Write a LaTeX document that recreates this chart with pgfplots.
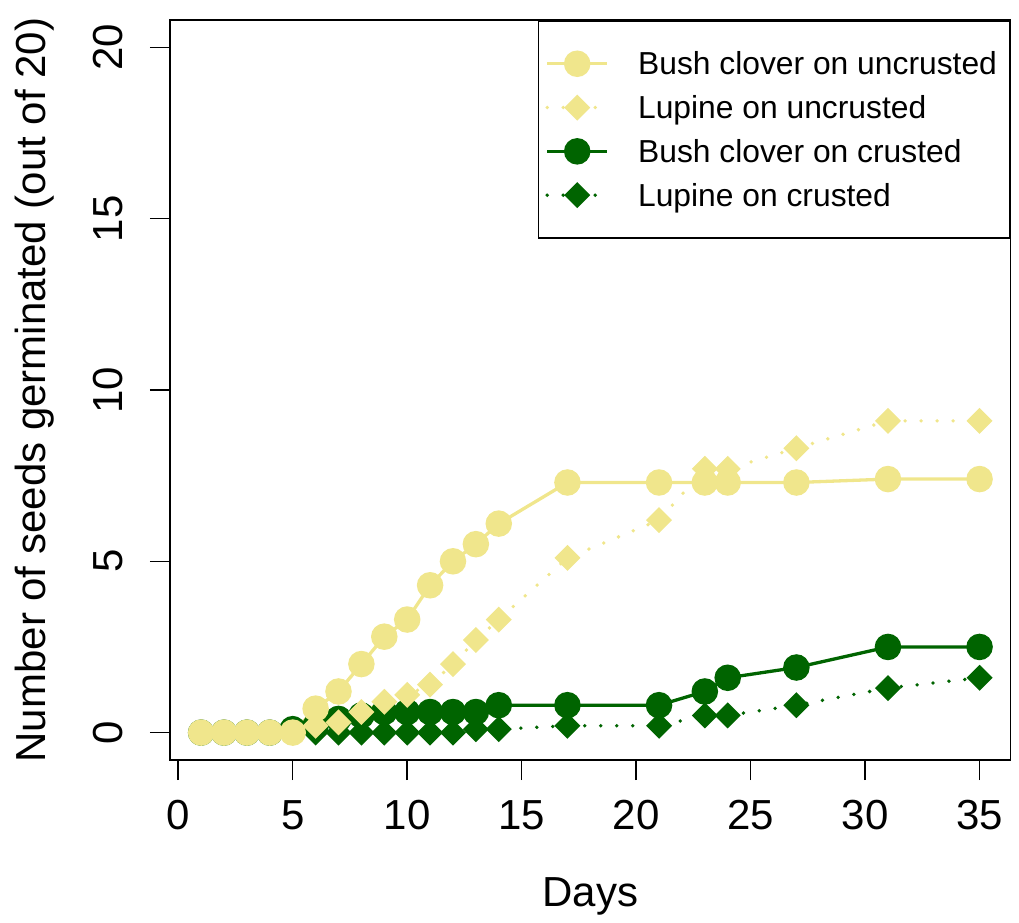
\documentclass[border=0pt]{standalone}
\usepackage{fontspec}
\setmainfont{Liberation Sans}
\usepackage{pgfplots}
\usepackage{pgfplotstable}
\pgfplotsset{compat=1.18}
\definecolor{khaki}{HTML}{F0E68C}
\definecolor{dkgreen}{HTML}{006400}

\pgfplotstableread{
day BCu  Lu   BCc  Lc
1   0    0    0    0
2   0    0    0    0
3   0    0    0    0
4   0    0    0    0
5   0    0    0.1  0
6   0.7  0.2  0.2  0
7   1.2  0.3  0.4  0
8   2.0  0.6  0.5  0
9   2.8  0.9  0.6  0
10  3.3  1.1  0.6  0
11  4.3  1.4  0.6  0
12  5.0  2.0  0.6  0
13  5.5  2.7  0.6  0.1
14  6.1  3.3  0.8  0.1
17  7.3  5.1  0.8  0.2
21  7.3  6.2  0.8  0.2
23  7.3  7.7  1.2  0.5
24  7.3  7.7  1.6  0.5
27  7.3  8.3  1.9  0.8
31  7.4  9.1  2.5  1.3
35  7.4  9.1  2.5  1.6
}\seeds

\begin{document}
\begin{tikzpicture}
\begin{axis}[
  scale only axis, width=420.35pt, height=370pt,
  xmin=-0.36, xmax=36.36, ymin=-0.8, ymax=20.8,
  axis line style={line width=0.75pt},
  xtick={0,5,...,35}, ytick={0,5,...,20},
  xtick pos=left, ytick pos=left,
  tick align=outside, major tick length=10pt,
  every tick/.style={line width=0.75pt, black},
  /pgf/number format/assume math mode=true,
  ticklabel style={font=\fontsize{21}{25}\selectfont},
  xticklabel style={anchor=north, inner sep=0pt},
  yticklabel style={rotate=90, anchor=south, inner sep=0pt},
  xticklabel shift=10pt, yticklabel shift=13.5pt,
  every axis x label/.style={at={(axis description cs:0.5,-0.19824)}, anchor=base, font=\fontsize{21}{25}\selectfont},
  every axis y label/.style={at={(axis description cs:-0.1475,0.5)}, anchor=base, rotate=90, font=\fontsize{21}{25}\selectfont},
  xlabel={Days},
  ylabel={Number of seeds germinated (out of 20)},
  legend style={at={(axis description cs:1,1)}, anchor=north east, draw=black,
    line width=0.75pt, fill=white, font=\fontsize{15.9}{18}\selectfont,
    inner xsep=3.5pt, inner ysep=14pt, row sep=6.9pt,
    nodes={inner sep=0pt, text height=13pt, text depth=2pt},
    /tikz/every odd column/.append style={column sep=14.5pt}},
  legend cell align=left,
  legend image code/.code={\draw[mark repeat=2, mark phase=2, #1] plot coordinates {(0pt,0pt) (15pt,0pt) (30pt,0pt)};},
]
\addlegendimage{color=khaki, line width=1.65pt, mark=*, mark size=5.8pt, mark options={solid}}
\addlegendimage{color=khaki, line width=1.9pt, line cap=round, dash pattern=on 0pt off 8pt, mark=square*, mark size=3.65pt, mark options={solid, rotate=45}}
\addlegendimage{color=dkgreen, line width=1.65pt, mark=*, mark size=5.8pt, mark options={solid}}
\addlegendimage{color=dkgreen, line width=1.9pt, line cap=round, dash pattern=on 0pt off 8pt, mark=square*, mark size=3.65pt, mark options={solid, rotate=45}}
\legend{Bush clover on uncrusted\hspace*{3pt}, Lupine on uncrusted, Bush clover on crusted, Lupine on crusted}

\addplot[forget plot, color=dkgreen, line width=1.65pt, mark=*, mark size=5.8pt, mark options={solid}] table[x=day, y=BCc] {\seeds};
\addplot[forget plot, color=dkgreen, line width=1.9pt, line cap=round, dash pattern=on 0pt off 8pt, mark=square*, mark size=3.65pt, mark options={solid, rotate=45}] table[x=day, y=Lc] {\seeds};
\addplot[forget plot, color=khaki, line width=1.9pt, line cap=round, dash pattern=on 0pt off 8pt, mark=square*, mark size=3.65pt, mark options={solid, rotate=45}] table[x=day, y=Lu] {\seeds};
\addplot[forget plot, color=khaki, line width=1.65pt, mark=*, mark size=5.8pt, mark options={solid}] table[x=day, y=BCu] {\seeds};

\coordinate (fsw) at (rel axis cs:0,0);
\coordinate (fne) at (rel axis cs:1,1);
\end{axis}
\path ([shift={(-85pt,-77pt)}]fsw) rectangle ([shift={(4.15pt,10pt)}]fne);
\end{tikzpicture}
\end{document}
